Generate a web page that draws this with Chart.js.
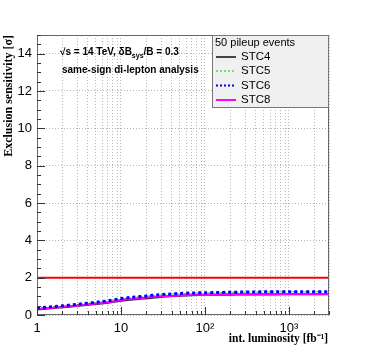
<!DOCTYPE html>
<html>
<head>
<meta charset="utf-8">
<script src="https://cdn.jsdelivr.net/npm/chart.js@4.4.1/dist/chart.umd.min.js"></script>
<style>
  html, body { margin: 0; padding: 0; background: #fff; }
  canvas { display: block; }
</style>
</head>
<body>
<canvas id="chart1" width="366" height="351"></canvas>
<script>
// luminosity points (fb^-1) og sensitivitet for hver STC
const luminosity = [1, 2, 3, 5, 7, 10, 20, 30, 50, 70, 100, 200, 300, 500, 700, 1000, 2000, 3000];
const stc4 = [0.30, 0.41, 0.49, 0.59, 0.66, 0.76, 0.90, 0.97, 1.03, 1.06, 1.08, 1.09, 1.10, 1.10, 1.10, 1.11, 1.11, 1.11];
const stc5 = [0.37, 0.48, 0.56, 0.67, 0.75, 0.86, 1.01, 1.08, 1.14, 1.17, 1.18, 1.21, 1.22, 1.23, 1.23, 1.24, 1.24, 1.24];
const stc6 = [0.38, 0.49, 0.57, 0.68, 0.76, 0.88, 1.02, 1.09, 1.15, 1.18, 1.19, 1.22, 1.23, 1.24, 1.24, 1.25, 1.25, 1.25];
const stc8 = [0.32, 0.43, 0.51, 0.61, 0.68, 0.80, 0.94, 1.00, 1.05, 1.08, 1.09, 1.11, 1.11, 1.12, 1.12, 1.12, 1.12, 1.12];
const limitLine = [2, 2]; // 2 sigma
const limitX = [1, 3000];

const seriesLabels = ['STC4', 'STC5', 'STC6', 'STC8'];
const legendHeader = '50 pileup events';

const xTickValues = [1,2,3,4,5,6,7,8,9,10,20,30,40,50,60,70,80,90,100,200,300,400,500,600,700,800,900,1000,2000,3000];
const xTickLabels = {1: '1', 10: '10', 100: '10²', 1000: '10³'};
const yTickValues = [0, 2, 4, 6, 8, 10, 12, 14];

const sansFont = "'Liberation Sans', Arial, sans-serif";
const serifFont = "'Liberation Serif', 'Times New Roman', serif";

function toPoints(xs, ys) {
    return xs.map((x, i) => ({x: x, y: ys[i]}));
}

// tegner ramme, ticks indad, legend, tekster og aksetitler (ROOT-stil)
const rootStyle = {
    id: 'rootStyle',
    afterDatasetsDraw(chart) {
        const { ctx, chartArea: a, scales: { x, y } } = chart;
        ctx.save();

        // ramme
        ctx.strokeStyle = '#666';
        ctx.lineWidth = 1;
        ctx.setLineDash([]);
        ctx.strokeRect(a.left + 0.5, a.top + 0.5, a.right - a.left - 1, a.bottom - a.top - 1);

        // ticks på x-aksen (indad)
        ctx.strokeStyle = '#333';
        ctx.beginPath();
        xTickValues.forEach(v => {
            const px = Math.round(x.getPixelForValue(v)) + 0.5;
            const len = xTickLabels[v] ? 8 : 4;
            ctx.moveTo(px, a.bottom);
            ctx.lineTo(px, a.bottom - len);
        });
        // ticks på y-aksen, minor hver 0.5
        for (let v = 0; v <= 15; v += 0.5) {
            const py = Math.round(y.getPixelForValue(v)) + 0.5;
            const len = (v % 2 === 0) ? 8 : 4;
            ctx.moveTo(a.left, py);
            ctx.lineTo(a.left + len, py);
        }
        ctx.stroke();

        // tekst i plottet
        ctx.fillStyle = '#000';
        ctx.textBaseline = 'middle';
        ctx.textAlign = 'left';
        ctx.font = 'bold 10px ' + sansFont;
        let tx = 60;
        const t1 = '√s = 14 TeV, δB';
        ctx.fillText(t1, tx, 52);
        tx += ctx.measureText(t1).width;
        ctx.font = 'bold 7px ' + sansFont;
        ctx.fillText('sys', tx, 56);
        tx += ctx.measureText('sys').width;
        ctx.font = 'bold 10px ' + sansFont;
        ctx.fillText('/B = 0.3', tx, 52);
        ctx.fillText('same-sign di-lepton analysis', 62, 70);

        // legend
        const lx = 212, ly = 35, lw = 117, lh = 73;
        ctx.fillStyle = '#f0f0f0';
        ctx.fillRect(lx, ly, lw, lh);
        ctx.strokeStyle = '#777';
        ctx.strokeRect(lx + 0.5, ly + 0.5, lw - 1, lh - 1);
        ctx.fillStyle = '#000';
        ctx.font = '11px ' + sansFont;
        ctx.fillText(legendHeader, 215, 43);
        ctx.font = '11.5px ' + sansFont;
        const rowY = [57, 71, 85.5, 100];
        const legendWidths = [2, 1, 2, 2];
        chart.data.datasets.slice(0, 4).forEach((ds, i) => {
            ctx.strokeStyle = i === 0 ? '#444' : ds.borderColor;
            ctx.lineWidth = legendWidths[i];
            ctx.setLineDash(i === 0 || i === 3 ? [] : [2, 2]);
            ctx.beginPath();
            ctx.moveTo(216, rowY[i]);
            ctx.lineTo(236, rowY[i]);
            ctx.stroke();
            ctx.fillText(ds.label, 241, rowY[i]);
        });
        ctx.setLineDash([]);

        // aksetitler
        ctx.font = 'bold 11.5px ' + serifFont;
        ctx.textAlign = 'right';
        ctx.fillText('int. luminosity [fb⁻¹]', 328, 339);
        ctx.translate(9, 35);
        ctx.rotate(-Math.PI / 2);
        ctx.font = 'bold 12px ' + serifFont;
        ctx.fillText('Exclusion sensitivity [σ]', 0, 0);

        ctx.restore();
    }
};

const ctx1 = document.querySelector('#chart1');
if (ctx1) {
new Chart(ctx1, {
    type: 'line',
    data: {
        datasets: [
            // order: lavere tal tegnes øverst (magenta over sort som i originalen)
            { label: seriesLabels[0], data: toPoints(luminosity, stc4), borderColor: '#222222', borderWidth: 2, order: 4 },
            { label: seriesLabels[1], data: toPoints(luminosity, stc5), borderColor: '#00cc00', borderWidth: 1, borderDash: [2, 2], order: 3 },
            { label: seriesLabels[2], data: toPoints(luminosity, stc6), borderColor: '#0000ff', borderWidth: 3, borderDash: [3, 3], order: 1 },
            { label: seriesLabels[3], data: toPoints(luminosity, stc8), borderColor: '#ff00ff', borderWidth: 2, order: 2 },
            { label: 'limit', data: toPoints(limitX, limitLine), borderColor: '#ff0000', borderWidth: 2, order: 5 }
        ]
    },
    options: {
        responsive: false,
        animation: false,
        layout: { padding: { left: 0, top: 35, right: 37, bottom: 0 } },
        elements: {
            point: { radius: 0 },
            line: { cubicInterpolationMode: 'monotone', fill: false }
        },
        scales: {
            x: {
                type: 'logarithmic',
                min: 1,
                max: 3000,
                afterBuildTicks: (scale) => {
                    scale.ticks = xTickValues.map(v => ({ value: v }));
                },
                afterFit: (scale) => { scale.height = 36; },
                grid: { color: '#b4b4b4', lineWidth: 1, drawTicks: false },
                border: { display: false, dash: [1, 2] },
                ticks: {
                    autoSkip: false,
                    maxRotation: 0,
                    padding: 6,
                    color: '#000',
                    font: { family: sansFont, size: 13 },
                    callback: function (value) {
                        return xTickLabels[value] || '';
                    }
                }
            },
            y: {
                type: 'linear',
                min: 0,
                max: 15,
                afterBuildTicks: (scale) => {
                    scale.ticks = yTickValues.map(v => ({ value: v }));
                },
                afterFit: (scale) => { scale.width = 37; },
                grid: { color: '#b4b4b4', lineWidth: 1, drawTicks: false },
                border: { display: false, dash: [1, 2] },
                ticks: {
                    padding: 5,
                    color: '#000',
                    font: { family: sansFont, size: 13 }
                }
            }
        },
        plugins: {
            legend: { display: false },
            tooltip: { enabled: false }
        }
    },
    plugins: [rootStyle]
});
}
</script>
</body>
</html>
